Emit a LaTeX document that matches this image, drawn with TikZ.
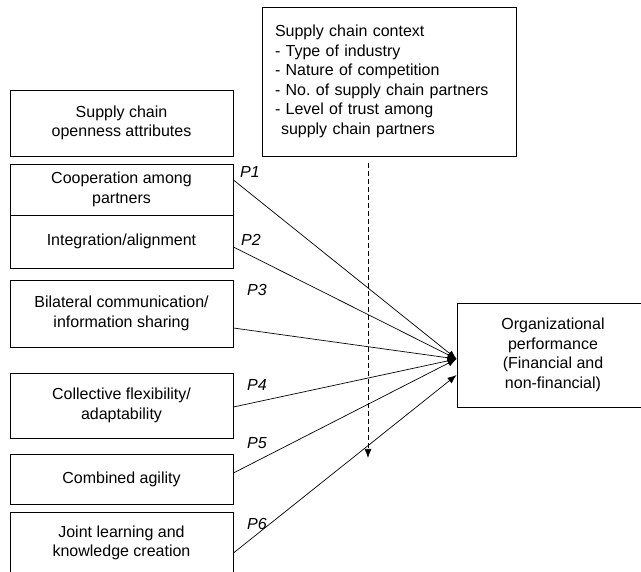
\documentclass[tikz,border=0pt]{standalone}
\usepackage{fontspec}
\setmainfont{Liberation Sans}
\frenchspacing
\usetikzlibrary{shapes,arrows,arrows.meta}
\tikzset{%
attr/.style={draw,line width=0.9pt,minimum width=223pt,align=center,
  font=\fontsize{16}{19.5}\selectfont},
%
plabel/.style={font=\fontsize{16}{19.5}\selectfont\itshape},
%
link/.style={->,line width=0.7pt},
}

\begin{document}
\begin{tikzpicture}[x=1pt,y=-1pt,>={Latex[length=9pt,width=7pt]}]
    \useasboundingbox (0,0) rectangle (641,572);
    \clip (0,0) rectangle (641,572);
    \node[attr,minimum height=66pt] (head) at (121.5,123) {Supply chain\\openness attributes};
    \node[attr,minimum height=51pt] (coop) at (121.5,189.5) {Cooperation among\\partners};
    \node[attr,minimum height=53pt] (integ) at (121.5,241.5) {Integration/alignment};
    \node[attr,minimum height=67pt] (bilat) at (121.5,313.5) {Bilateral communication/\\information sharing};
    \node[attr,minimum height=65pt] (flex) at (121.5,405.5) {Collective flexibility/\\adaptability};
    \node[attr,minimum height=50pt] (agil) at (121.5,479) {Combined agility};
    \node[attr,minimum height=62pt] (learn) at (121.5,543) {Joint learning and\\knowledge creation};
    \node[attr,minimum width=192pt,minimum height=104pt] (org) at (553,355)
        {Organizational\\performance\\(Financial and\\non-financial)};
    \node[attr,minimum width=254pt,minimum height=149pt,text width=228pt,inner xsep=13pt,align=left] (ctx) at (389,81.5)
        {Supply chain context\\- Type of industry\\- Nature of competition\\- No.\ of supply chain partners\\- Level of trust among\\\hspace*{6pt}supply chain partners};
    \draw[link] ([yshift=9.5pt]coop.east) -- ([yshift=-4pt]org.west);
    \draw[link] ([yshift=-5.5pt]integ.east) -- ([yshift=-4pt]org.west);
    \draw[link] ([yshift=-14.5pt]bilat.east) -- ([yshift=-4pt]org.west);
    \draw[link] ([yshift=-1.5pt]flex.east) -- ([yshift=-4pt]org.west);
    \draw[link] ([yshift=6pt]agil.east) -- ([yshift=-4pt]org.west);
    \draw[link] ([yshift=-10pt]learn.east) -- ([yshift=-20pt]org.west);
    \node[plabel] (p1) at (250,172) {P1};
    \node[plabel] (p2) at (251,240) {P2};
    \node[plabel] (p3) at (257,290) {P3};
    \node[plabel] (p4) at (257,385) {P4};
    \node[plabel] (p5) at (257,443) {P5};
    \node[plabel] (p6) at (257,524) {P6};
    \coordinate (ctxend) at (368,458);
    \draw[link,dash pattern=on 5pt off 3pt] ([xshift=-21pt,yshift=-7pt]ctx.south) -- (ctxend);
\end{tikzpicture}
\end{document}
